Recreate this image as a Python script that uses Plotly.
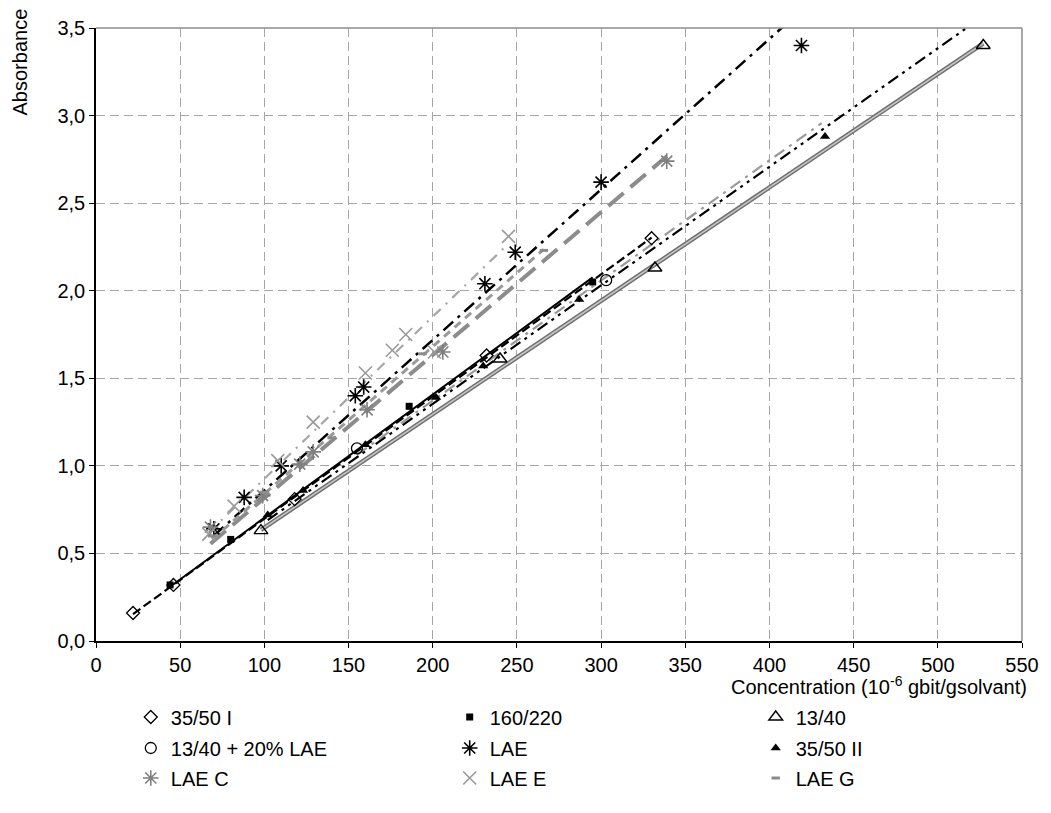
import numpy as np
import plotly.graph_objects as go

# ---------------- data ----------------
series_names = ["35/50 I", "160/220", "13/40", "13/40 + 20% LAE", "LAE",
                "35/50 II", "LAE C", "LAE E", "LAE G"]

x_3550_I = [22, 46, 118, 232, 330]
y_3550_I = [0.16, 0.32, 0.81, 1.63, 2.30]

x_160_220 = [44, 80, 186, 295]
y_160_220 = [0.32, 0.58, 1.34, 2.05]

x_1340 = [98, 240, 332, 527]
y_1340 = [0.63, 1.61, 2.13, 3.40]

x_1340_lae = [155, 303]
y_1340_lae = [1.10, 2.06]

x_lae = [70, 88, 110, 154, 159, 231, 249, 300, 419]
y_lae = [0.64, 0.82, 1.00, 1.40, 1.45, 2.04, 2.22, 2.62, 3.40]

x_3550_II = [102, 123, 160, 202, 230, 287, 433]
y_3550_II = [0.72, 0.86, 1.12, 1.39, 1.57, 1.95, 2.88]

x_lae_c = [68, 99, 121, 129, 161, 206, 339]
y_lae_c = [0.65, 0.83, 1.01, 1.08, 1.32, 1.65, 2.74]

x_lae_e = [67, 82, 108, 129, 160, 176, 184, 201, 245]
y_lae_e = [0.61, 0.77, 1.03, 1.25, 1.53, 1.66, 1.75, 1.65, 2.31]

x_lae_g = [69, 100, 140, 194, 266]
y_lae_g = [0.60, 0.85, 1.16, 1.64, 2.23]

# trendline forward forecast (x units) per series
trend_forecast = {"13/40 + 20% LAE": 128, "35/50 II": 94}

x_ticks = list(range(0, 551, 50))
y_ticks = [0.0, 0.5, 1.0, 1.5, 2.0, 2.5, 3.0, 3.5]

data = {
    "35/50 I": (x_3550_I, y_3550_I),
    "160/220": (x_160_220, y_160_220),
    "13/40": (x_1340, y_1340),
    "13/40 + 20% LAE": (x_1340_lae, y_1340_lae),
    "LAE": (x_lae, y_lae),
    "35/50 II": (x_3550_II, y_3550_II),
    "LAE C": (x_lae_c, y_lae_c),
    "LAE E": (x_lae_e, y_lae_e),
    "LAE G": (x_lae_g, y_lae_g),
}

# ---------------- styles ----------------
marker_style = {
    "35/50 I": dict(symbol="diamond-open", size=10, color="black", line=dict(width=1.3, color="black")),
    "160/220": dict(symbol="square", size=7, color="black"),
    "13/40": dict(symbol="triangle-up-open", size=12, color="black", line=dict(width=1.4, color="black")),
    "13/40 + 20% LAE": dict(symbol="circle-open", size=11, color="black", line=dict(width=1.3, color="black")),
    "LAE": dict(symbol="asterisk-open", size=13, color="black", line=dict(width=1.6, color="black")),
    "35/50 II": dict(symbol="triangle-up", size=9, color="black"),
    "LAE C": dict(symbol="asterisk-open", size=13, color="#7f7f7f", line=dict(width=1.6, color="#7f7f7f")),
    "LAE E": dict(symbol="x-thin-open", size=13, color="#9a9a9a", line=dict(width=1.6, color="#9a9a9a")),
    "LAE G": dict(symbol="line-ew-open", size=6, color="#8c8c8c", line=dict(width=3, color="#8c8c8c")),
}

trend_style = {
    "35/50 I": [dict(color="black", width=2.2, dash="9px,4px")],
    "160/220": [dict(color="black", width=2, dash="solid")],
    "13/40": [dict(color="#707070", width=4.5, dash="solid"),
              dict(color="#c8c8c8", width=1.5, dash="solid")],
    "13/40 + 20% LAE": [dict(color="#9a9a9a", width=2.2, dash="12px,6px,3px,6px")],
    "LAE": [dict(color="black", width=2.5, dash="13px,6px,3px,6px")],
    "35/50 II": [dict(color="black", width=2.2, dash="12px,5px,3px,5px,3px,5px")],
    "LAE C": [dict(color="#8c8c8c", width=4, dash="20px,9px")],
    "LAE E": [dict(color="#a6a6a6", width=2.2, dash="10px,7px,2px,7px")],
    "LAE G": [dict(color="#9a9a9a", width=3, dash="8px,6px")],
}

fig = go.Figure()

# trendlines: linear, intercept set to 0 (fit from the data arrays)
for name in series_names:
    xs, ys = np.asarray(data[name][0], float), np.asarray(data[name][1], float)
    slope = float(np.sum(xs * ys) / np.sum(xs * xs))
    x_end = xs.max() + trend_forecast.get(name, 0)
    tx = np.linspace(xs.min(), x_end, 200)
    for st in trend_style[name]:
        fig.add_trace(go.Scatter(x=tx, y=slope * tx, mode="lines", line=st,
                                 showlegend=False, hoverinfo="skip"))

FONT = "Arial, Liberation Sans, sans-serif"
FS = 20
W, H = 1051, 813
# target plot-area edges in page pixels
PL, PR, PT, PB = 96, 1028, 28, 641
L, T, R, B = PL, PT, W - PR, H - PB
pw, ph = PR - PL, PB - PT


def px_x(p):
    return (p - PL) / pw


def px_y(p):
    return (PB - p) / ph


# legend grid (3 columns x 3 rows), one legend box per entry
col_px = [131, 452, 760]
row_px = [717, 748, 778]
legend_layout = {}
for i, name in enumerate(series_names):
    key = "legend" if i == 0 else f"legend{i + 1}"
    legend_layout[key] = dict(
        x=px_x(col_px[i % 3]), y=px_y(row_px[i // 3]), xanchor="left", yanchor="middle",
        orientation="h", font=dict(family=FONT, size=FS, color="black"),
        bgcolor="rgba(0,0,0,0)", itemsizing="trace")
    xs, ys = data[name]
    fig.add_trace(go.Scatter(x=xs, y=ys, mode="markers", name=name,
                             marker=marker_style[name], legend=key,
                             cliponaxis=False))

axis_common = dict(showgrid=True, gridcolor="#a6a6a6", griddash="9px,5px", gridwidth=1,
                   showline=True, linecolor="black", linewidth=1.5, ticks="outside",
                   ticklen=5, tickcolor="black", tickwidth=1, zeroline=False,
                   tickfont=dict(family=FONT, size=FS, color="black"))

fig.update_layout(
    width=W, height=H, autosize=False,
    margin=dict(l=L, r=R, t=T, b=B, pad=0),
    paper_bgcolor="white", plot_bgcolor="white",
    separators=", ",
    font=dict(family=FONT, size=FS, color="black"),
    xaxis=dict(range=[0, 550], tickvals=x_ticks, **axis_common),
    yaxis=dict(range=[0, 3.5], tickvals=y_ticks, tickformat=".1f", **axis_common),
    annotations=[
        dict(text="Absorbance", textangle=-90, x=px_x(20), y=px_y(62), xref="paper", yref="paper",
             showarrow=False, font=dict(family=FONT, size=FS, color="black"),
             xanchor="center", yanchor="middle"),
        dict(text="Concentration (10<sup>-6</sup> gbit/gsolvant)", x=px_x(1035), y=px_y(685),
             xref="paper", yref="paper", showarrow=False,
             font=dict(family=FONT, size=FS, color="black"), xanchor="right", yanchor="middle"),
    ],
    shapes=[
        dict(type="line", xref="x domain", yref="y domain", x0=0, x1=1, y0=1, y1=1,
             line=dict(color="#8c8c8c", width=1.5), layer="above"),
        dict(type="line", xref="x domain", yref="y domain", x0=1, x1=1, y0=0, y1=1,
             line=dict(color="#8c8c8c", width=1.5), layer="above"),
    ],
    **legend_layout,
)

# remove the default page margin so the figure sits at the window origin
fig.write_html("out.html",
               config={"displayModeBar": False},
               post_script="document.body.style.margin='0';document.body.style.overflow='hidden';")
